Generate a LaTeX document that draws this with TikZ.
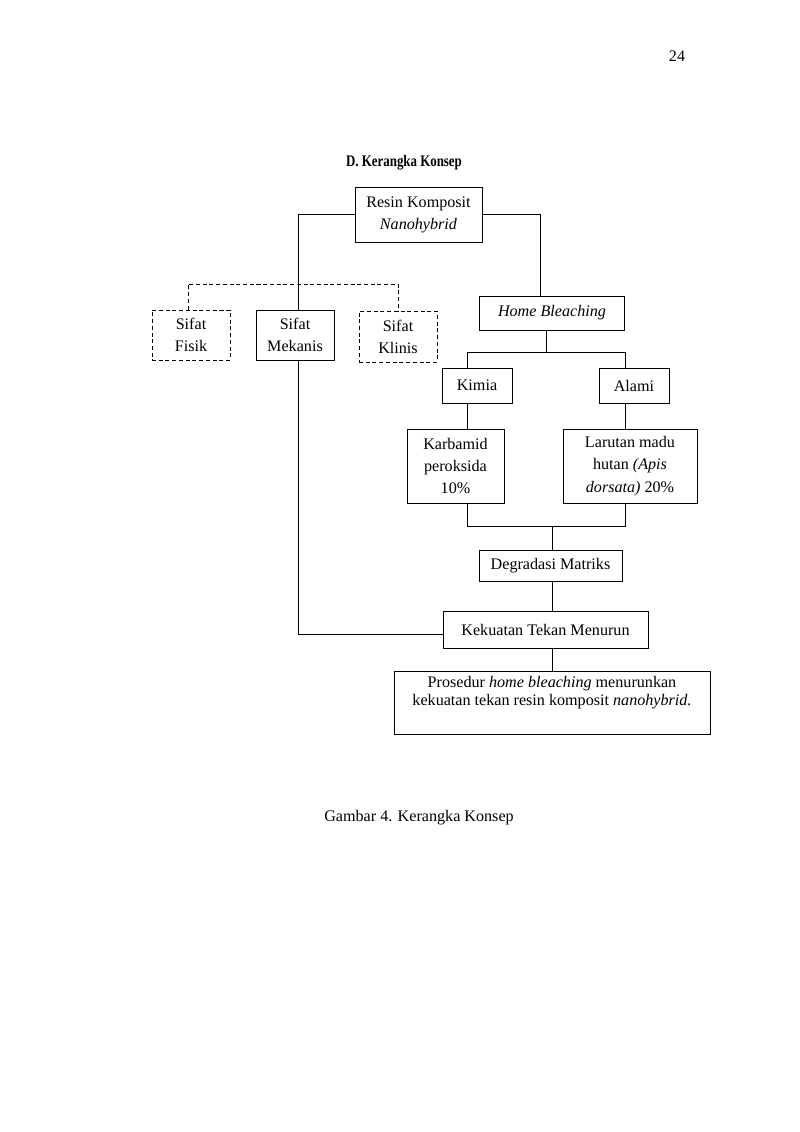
\documentclass[tikz,border=0pt]{standalone}
\usepackage{graphicx}
\usepackage{fontspec}
\setmainfont{Liberation Serif}
\usetikzlibrary{positioning}

\begin{document}
\begin{tikzpicture}[
    x=0.744pt, y=-0.744pt,
    box/.style={
        draw,
        line width=0.6pt,
        align=center,
        inner sep=1pt,
        font=\fontsize{12}{16.5}\selectfont
    },
    dbox/.style={
        box,
        dash pattern=on 3pt off 2pt
    },
    link/.style={
        line width=0.6pt
    },
    dlink/.style={
        line width=0.6pt,
        dash pattern=on 3pt off 2pt
    }
]
\useasboundingbox (0,0) rectangle (800,1132);

% ------------------------------------------------
% Page text
% ------------------------------------------------
\node[font=\fontsize{12}{14}\selectfont] (page) at (677,56) {24};
\node[font=\fontsize{12}{14}\selectfont\bfseries] (title) at (404,163) {\scalebox{0.8}[1]{D. Kerangka Konsep}};
\node[font=\fontsize{12}{14}\selectfont] (cap) at (419,818) {Gambar 4. Kerangka Konsep};

% ------------------------------------------------
% Boxes
% ------------------------------------------------
\node[box, minimum width=94.5pt, minimum height=40.9pt] (res) at (418.5,214.5) {Resin Komposit\\ \textit{Nanohybrid}};

\node[dbox, minimum width=58pt, minimum height=37.2pt] (fisik) at (191,335) {Sifat\\ Fisik};
\node[box,  minimum width=58pt, minimum height=37.2pt] (mek)   at (295,335) {Sifat\\ Mekanis};
\node[dbox, minimum width=58pt, minimum height=37.9pt] (klin)  at (398,336.5) {Sifat\\ Klinis};

\node[box, minimum width=107.9pt, minimum height=25.3pt] (hb) at (552,313) {\textit{Home Bleaching}};

\node[box, minimum width=52.1pt, minimum height=26pt] (kim) at (477,385.5) {Kimia};
\node[box, minimum width=52.1pt, minimum height=26pt] (alm) at (634,385.5) {Alami};

\node[box, minimum width=72.2pt, minimum height=55.1pt] (karb) at (455.5,466) {Karbamid\\ peroksida\\ 10\%};
\node[box, minimum width=99.7pt, minimum height=55.1pt] (lar)  at (630,466) {Larutan madu\\ hutan \textit{(Apis}\\ \textit{dorsata)} 20\%};

\node[box, minimum width=106.4pt, minimum height=23pt] (deg) at (550.5,565.5) {Degradasi Matriks};
\node[box, minimum width=152.5pt, minimum height=27.5pt] (kek) at (545.5,629.5) {Kekuatan Tekan Menurun};

\node[box, minimum width=235.1pt, minimum height=46.9pt, font=\fontsize{12}{13}\selectfont] (pro) at (552,702.5)
    {Prosedur \textit{home bleaching} menurunkan\\ kekuatan tekan resin komposit \textit{nanohybrid.}\\[4pt]};

% ------------------------------------------------
% Joints
% ------------------------------------------------
\coordinate (jl) at (298,214);
\coordinate (jr) at (540,214);
\coordinate (jd) at (298,284);
\coordinate (jh) at (546,352);
\coordinate (jk) at (467,352);
\coordinate (ja) at (625,352);
\coordinate (jb) at (552,526);
\coordinate (jm) at (298,634);

% ------------------------------------------------
% Connectors
% ------------------------------------------------
\draw[link] (res.west |- jl) -- (jl) -- (mek.north -| jl);
\draw[link] (res.east |- jr) -- (jr) -- (hb.north -| jr);

\draw[dlink] (fisik.north -| 188,0) -- (188,284) -- (jd) -- (klin.north |- jd) -- (klin.north);

\draw[link] (hb.south -| jh) -- (jh);
\draw[link] (kim.north -| jk) -- (jk) -- (ja) -- (alm.north -| ja);
\draw[link] (kim.south -| jk) -- (karb.north -| jk);
\draw[link] (alm.south -| ja) -- (lar.north -| ja);

\draw[link] (karb.south -| jk) -- (jk |- jb) -- (ja |- jb) -- (lar.south -| ja);
\draw[link] (jb) -- (deg.north -| jb);
\draw[link] (deg.south -| jb) -- (kek.north -| jb);
\draw[link] (kek.south -| jb) -- (pro.north -| jb);

\draw[link] (mek.south -| jm) -- (jm) -- (kek.west |- jm);

\end{tikzpicture}
\end{document}
